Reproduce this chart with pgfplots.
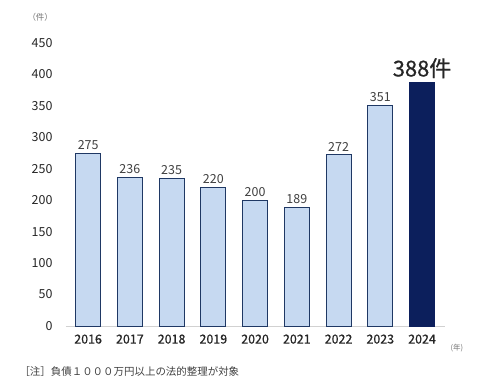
\documentclass[border=0pt]{standalone}
\usepackage{pgfplots}
\pgfplotsset{compat=1.18}
\usepackage{fontspec}
\setmainfont{Noto Sans CJK JP}
\newfontfamily\medfont{Noto Sans CJK JP}[FakeBold=0.6]
\definecolor{barlight}{HTML}{C6D9F1}
\definecolor{baredge}{HTML}{1F3864}
\definecolor{bardark}{HTML}{0C1F5C}
\definecolor{txt}{HTML}{404040}
\begin{document}
\begin{tikzpicture}[x=1bp,y=1bp]
\begin{axis}[
  scale only axis,
  width=379bp, height=283bp,
  at={(0,0)}, anchor=south west,
  xmin=-0.53, xmax=8.55,
  ymin=0, ymax=450,
  ytick={0,50,...,450},
  xtick={0,...,8},
  xticklabels={2016,2017,2018,2019,2020,2021,2022,2023,2024},
  axis y line=none,
  axis x line*=bottom,
  x axis line style={draw=black!18, line width=0.8pt, -},
  major tick length=0pt,
  /pgf/number format/assume math mode=true,
  xticklabel style={font=\medfont\fontsize{12.5}{14}\selectfont, text=black!85, yshift=-5bp},
  clip=false,
  ybar, bar width=25bp,
  nodes near coords,
  nodes near coords style={font=\fontsize{12.5}{14}\selectfont, text=txt},
]
\addplot[fill=barlight, draw=baredge, line width=0.9pt, bar shift=0pt]
  coordinates {(0,275) (1,236) (2,235) (3,220) (4,200) (5,189) (6,272) (7,351)};
\addplot[fill=bardark, draw=bardark, line width=0.9pt, bar shift=0pt,
  nodes near coords={388件},
  nodes near coords style={font=\medfont\fontsize{22}{24}\selectfont, text=black!85, yshift=0bp}]
  coordinates {(8,388)};
\foreach \v in {0,50,...,450} {
  \edef\tmp{\noexpand\node[anchor=east, font=\noexpand\fontsize{12.5}{14}\noexpand\selectfont, text=black!85] at (axis cs:-0.53,\v) [xshift=-10bp] {\v};}
  \tmp
}
\end{axis}
\node[anchor=west, font=\fontsize{8.5}{10}\selectfont, text=black!55] at (-42bp,309bp) {（件）};
\node[anchor=west, font=\fontsize{7.5}{9}\selectfont, text=black!55] at (381bp,-22bp) {(年)};
\node[anchor=west, font=\fontsize{10.5}{12}\selectfont, text=black!75] at (-50bp,-46bp) {［注］負債１０００万円以上の法的整理が対象};
\pgfresetboundingbox
\path (-66bp,-66bp) rectangle (418bp,326bp);
\end{tikzpicture}
\end{document}
